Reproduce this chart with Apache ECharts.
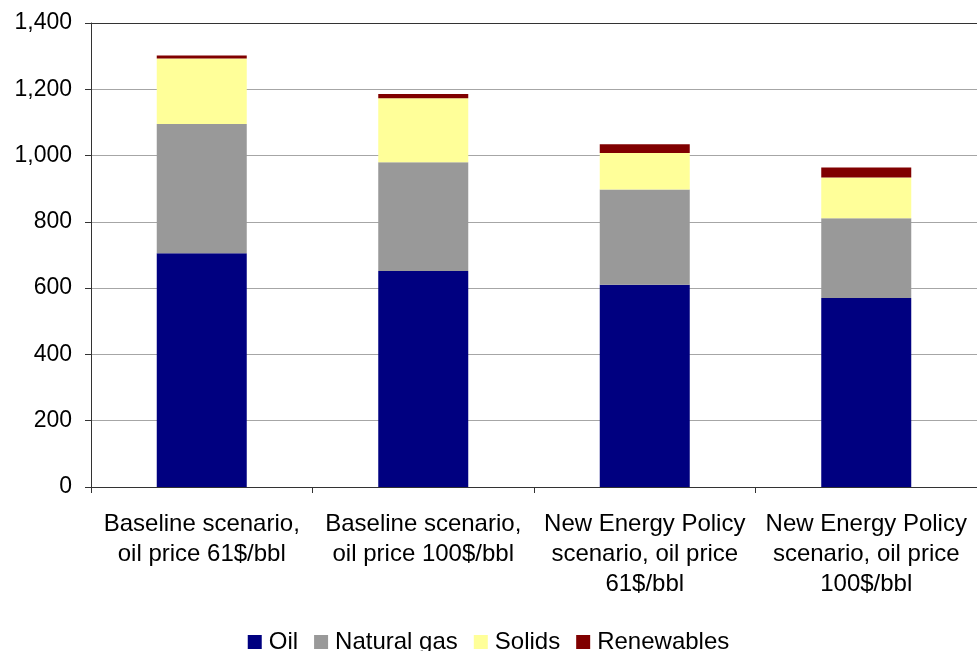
<!DOCTYPE html>
<html>
<head>
<meta charset="utf-8">
<script src="https://cdn.jsdelivr.net/npm/echarts@6/dist/echarts.min.js"></script>
<style>
  html, body { margin: 0; padding: 0; background: #ffffff; }
  #chart { width: 977px; height: 651px; }
</style>
</head>
<body>
<div id="chart"></div>
<script>
// Scenario categories (x axis)
const categories = [
  'Baseline scenario,\noil price 61$/bbl',
  'Baseline scenario,\noil price 100$/bbl',
  'New Energy Policy\nscenario, oil price\n61$/bbl',
  'New Energy Policy\nscenario, oil price\n100$/bbl'
];

// Stacked components per scenario
const oil        = [705, 652, 610, 570];
const naturalGas = [390, 328, 288, 241];
const solids     = [198, 193, 110, 123];
const renewables = [9, 13, 26, 30];

// Value axis range
const yMin = 0;
const yMax = 1400;
const yStep = 200;

const FONT = "'Liberation Sans', Arial, sans-serif";

function fmtThousands(v) {
  return String(v).replace(/\B(?=(\d{3})+(?!\d))/g, ',');
}

// Gridline colours from bottom to top; the top line doubles as the plot frame
const gridColors = [];
for (let v = yMin; v <= yMax; v += yStep) {
  gridColors.push(v === yMax ? '#333333' : '#a6a6a6');
}

const chart = echarts.init(document.getElementById('chart'), null, { renderer: 'canvas' });

function barSeries(name, data, color) {
  return {
    name: name,
    type: 'bar',
    stack: 'total',
    data: data,
    barWidth: 90,
    itemStyle: { color: color },
    emphasis: { disabled: true },
    animation: false
  };
}

chart.setOption({
  animation: false,
  backgroundColor: '#ffffff',
  textStyle: { fontFamily: FONT },
  grid: {
    left: 91,
    top: 23,
    width: 890,
    height: 464
  },
  legend: {
    data: ['Oil', 'Natural gas', 'Solids', 'Renewables'],
    left: 'center',
    top: 625,
    icon: 'rect',
    itemWidth: 14,
    itemHeight: 14,
    itemGap: 16,
    textStyle: { fontFamily: FONT, fontSize: 24, color: '#000000', padding: [0, 0, 0, 2] }
  },
  xAxis: {
    type: 'category',
    data: categories,
    axisLine: { show: true, lineStyle: { color: '#333333', width: 1 } },
    axisTick: { show: true, length: 6, lineStyle: { color: '#333333' } },
    axisLabel: {
      interval: 0,
      margin: 22,
      fontFamily: FONT,
      fontSize: 24,
      lineHeight: 30,
      color: '#000000',
      align: 'center'
    },
    splitLine: { show: false }
  },
  yAxis: {
    type: 'value',
    min: yMin,
    max: yMax,
    interval: yStep,
    axisLine: { show: true, lineStyle: { color: '#333333', width: 1 } },
    axisTick: { show: true, length: 6, lineStyle: { color: '#333333' } },
    axisLabel: {
      margin: 19,
      fontFamily: FONT,
      fontSize: 23,
      color: '#000000',
      formatter: fmtThousands
    },
    splitLine: { show: true, lineStyle: { color: gridColors, width: 1 } }
  },
  series: [
    barSeries('Oil', oil, '#000080'),
    barSeries('Natural gas', naturalGas, '#999999'),
    barSeries('Solids', solids, '#ffff99'),
    barSeries('Renewables', renewables, '#800000')
  ]
});
</script>
</body>
</html>
